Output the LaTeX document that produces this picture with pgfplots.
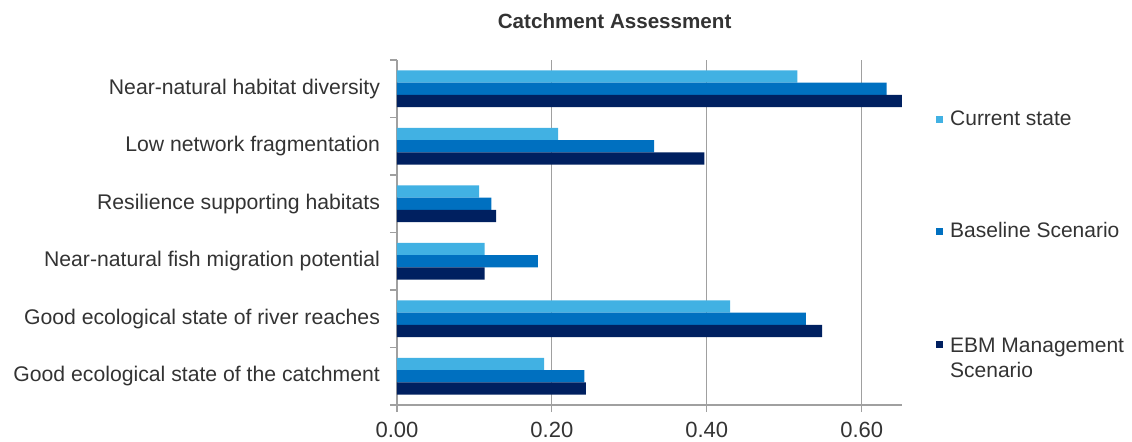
\documentclass[border=0pt]{standalone}
\usepackage{fontspec}
\setmainfont{Liberation Sans}
\usepackage{pgfplots}
\pgfplotsset{compat=1.18}

\definecolor{curr}{HTML}{41B1E3}
\definecolor{base}{HTML}{0070C0}
\definecolor{ebm}{HTML}{002060}
\definecolor{gridc}{HTML}{A0A0A0}
\definecolor{txt}{HTML}{333333}

\begin{document}
\begin{tikzpicture}
\path[use as bounding box] (-198.5pt,-18pt) rectangle (367.5pt,202.5pt);
\begin{axis}[
  at={(0pt,0pt)}, anchor=south west,
  scale only axis, width=252.5pt, height=172.5pt,
  xbar, bar width=6.1pt,
  xmin=0, xmax=0.652, ymin=-0.5, ymax=5.5,
  axis x line*=bottom, axis y line*=left,
  axis line style={gridc, line width=0.6pt},
  xtick={0,0.2,0.4,0.6},
  xmajorgrids, grid style={gridc, line width=0.6pt},
  ytick={-0.5,0.5,...,5.5},
  y tick label as interval,
  yticklabels={Good ecological state of the catchment,
               Good ecological state of river reaches,
               Near-natural fish migration potential,
               Resilience supporting habitats,
               Low network fragmentation,
               Near-natural habitat diversity},
  tick align=outside, major tick length=3.5pt,
  tick style={gridc, line width=0.6pt},
  /pgf/number format/fixed,
  /pgf/number format/fixed zerofill,
  /pgf/number format/precision=2,
  /pgf/number format/assume math mode=true,
  tick label style={font=\fontsize{10.6}{12}\selectfont, text=txt},
  xticklabel style={yshift=-1.5pt, font=\fontsize{11}{12}\selectfont},
  yticklabel style={xshift=-1.5pt},
  title={Catchment Assessment},
  title style={at={(axis description cs:0.431,1)}, anchor=center, yshift=13.5pt,
               font=\bfseries\fontsize{10.3}{12}\selectfont, text=txt},
  legend style={draw=none, fill=none, anchor=north west,
                at={(axis description cs:1.055,0.877)},
                row sep=43pt, font=\fontsize{10.5}{12.5}\selectfont, text=txt,
                cells={anchor=west}},
  legend image code/.code={\fill[#1] (0pt,-1.75pt) rectangle (3.5pt,1.75pt);
                           \path (5pt,0pt);},
]
\addplot[draw=none, fill=curr, bar shift=6.1pt] coordinates {
  (0.190,0) (0.430,1) (0.113,2) (0.106,3) (0.208,4) (0.517,5)
};
\addlegendentry{Current state}
\addplot[draw=none, fill=base, bar shift=0pt] coordinates {
  (0.242,0) (0.528,1) (0.182,2) (0.122,3) (0.332,4) (0.632,5)
};
\addlegendentry{Baseline Scenario}
\addplot[draw=none, fill=ebm, bar shift=-6.1pt] coordinates {
  (0.244,0) (0.549,1) (0.113,2) (0.128,3) (0.397,4) (0.652,5)
};
\addlegendentry{\raisebox{0pt}[\height][0pt]{\begin{tabular}[t]{@{}l@{}}EBM Management\\Scenario\end{tabular}}}
\end{axis}
\end{tikzpicture}
\end{document}
